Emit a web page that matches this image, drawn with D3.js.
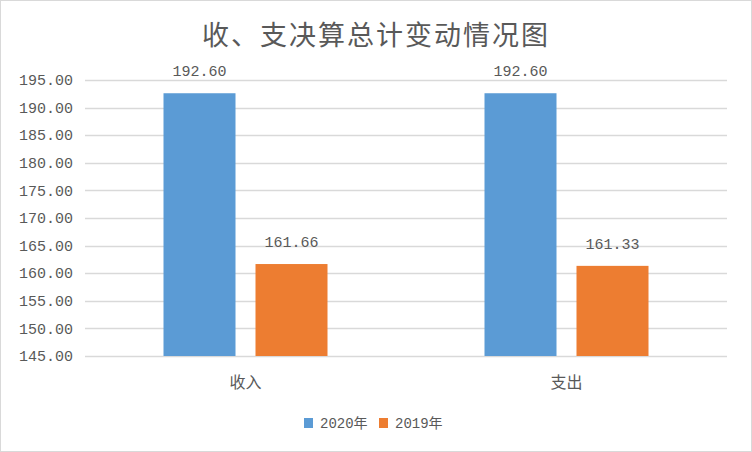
<!DOCTYPE html>
<html>
<head>
<meta charset="utf-8">
<script src="https://cdn.jsdelivr.net/npm/d3@7"></script>
<style>
  body { margin: 0; background: #fff; }
  text { fill: #595959; }
</style>
</head>
<body>
<svg id="chart" width="752" height="452"></svg>
<script>
const width = 752;
const height = 452;

// data
const categories = ["收入", "支出"];
const seriesNames = ["2020年", "2019年"];
const values2020 = [192.60, 192.60];
const values2019 = [161.66, 161.33];
const yTicks = [145, 150, 155, 160, 165, 170, 175, 180, 185, 190, 195];
const colors = ["#5b9bd5", "#ed7d31"];

const numFont = "'Liberation Mono', 'Noto Sans CJK SC', monospace";
const cjkFont = "'Noto Sans CJK SC', sans-serif";

const svg = d3.select("#chart");
const plot = { left: 85, right: 727, top: 80, bottom: 356 };

// outer border
svg.append("rect")
  .attr("x", 0.5).attr("y", 0.5)
  .attr("width", width - 1).attr("height", height - 1)
  .attr("fill", "#fff")
  .attr("stroke", "#d9d9d9");

const x = d3.scaleBand()
  .domain(categories)
  .range([plot.left, plot.right]);

const y = d3.scaleLinear()
  .domain([145, 195])
  .range([plot.bottom, plot.top]);

// grid lines
svg.append("g")
  .selectAll("line")
  .data(yTicks)
  .enter()
  .append("line")
  .attr("x1", plot.left)
  .attr("x2", plot.right)
  .attr("y1", d => Math.round(y(d)) + 0.5)
  .attr("y2", d => Math.round(y(d)) + 0.5)
  .attr("stroke", "#d9d9d9")
  .attr("stroke-width", 1.5);

// y axis labels
svg.append("g")
  .selectAll("text")
  .data(yTicks)
  .enter()
  .append("text")
  .attr("x", 73)
  .attr("y", d => y(d))
  .attr("dy", "0.35em")
  .attr("text-anchor", "end")
  .style("font-family", numFont)
  .style("font-size", "15px")
  .text(d => d.toFixed(2));

// bars
const barW = 72, gap = 20;
const series = [values2020, values2019];
const bars = [];
categories.forEach((c, i) => {
  series.forEach((vals, s) => {
    bars.push({ cat: c, s: s, v: vals[i] });
  });
});
const center = c => x(c) + x.bandwidth() / 2;
const barX = d => center(d.cat) - gap / 2 - barW + d.s * (barW + gap);

svg.append("g")
  .selectAll("rect")
  .data(bars)
  .enter()
  .append("rect")
  .attr("x", barX)
  .attr("y", d => y(d.v))
  .attr("width", barW)
  .attr("height", d => y(145) - y(d.v))
  .attr("fill", d => colors[d.s]);

// value labels
svg.append("g")
  .selectAll("text")
  .data(bars)
  .enter()
  .append("text")
  .attr("x", d => barX(d) + barW / 2)
  .attr("y", d => y(d.v) - 17)
  .attr("text-anchor", "middle")
  .style("font-family", numFont)
  .style("font-size", "15px")
  .text(d => d.v.toFixed(2));

// category labels
svg.append("g")
  .selectAll("text")
  .data(categories)
  .enter()
  .append("text")
  .attr("x", d => center(d))
  .attr("y", 388)
  .attr("text-anchor", "middle")
  .style("font-family", cjkFont)
  .style("font-size", "16px")
  .text(d => d);

// title
svg.append("text")
  .attr("x", width / 2)
  .attr("y", 45)
  .attr("text-anchor", "middle")
  .style("font-family", cjkFont)
  .style("font-size", "27px")
  .style("letter-spacing", "2px")
  .text("收、支决算总计变动情况图");

// legend
const legendX = [304, 379];
const legend = svg.append("g");
seriesNames.forEach((name, i) => {
  legend.append("rect")
    .attr("x", legendX[i]).attr("y", 418)
    .attr("width", 9).attr("height", 10)
    .attr("fill", colors[i]);
  legend.append("text")
    .attr("x", legendX[i] + 16)
    .attr("y", 423)
    .attr("dy", "0.35em")
    .style("font-family", numFont)
    .style("font-size", "14px")
    .text(name);
});
</script>
</body>
</html>
